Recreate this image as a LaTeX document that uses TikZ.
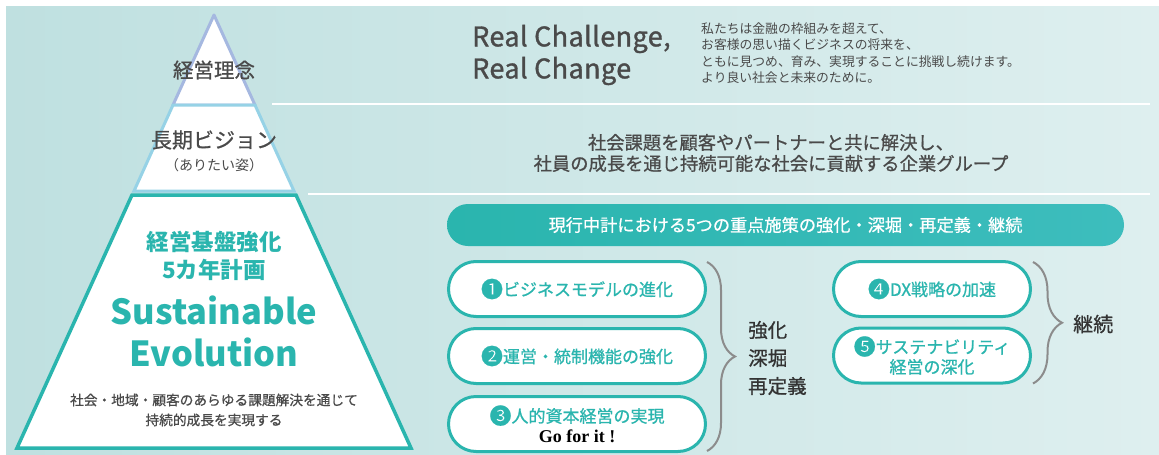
\documentclass[tikz,border=0pt]{standalone}
\usepackage{fontspec}
\setmainfont{Noto Sans CJK JP}
\newfontfamily\realfont[LetterSpace=1.5, FakeBold=1.2]{Noto Sans CJK JP}
\newfontfamily\medfont[FakeBold=0.8]{Noto Sans CJK JP}
\newfontfamily\serifbf{Liberation Serif}
\usetikzlibrary{decorations.pathreplacing}

\definecolor{bgleft}{HTML}{BFE0E0}
\definecolor{bgright}{HTML}{DEEFEF}
\definecolor{tealc}{HTML}{2AB5AE}
\definecolor{tealr}{HTML}{3DBDBD}
\definecolor{lavender}{HTML}{A5B8E0}
\definecolor{skyline}{HTML}{96D2E6}
\definecolor{darktxt}{HTML}{4A4A4A}
\definecolor{blacktxt}{HTML}{333333}
\definecolor{bracegray}{HTML}{8C8C8C}

\newcommand{\fsz}[2]{\fontsize{#1}{#2}\selectfont}
\newcommand{\numc}[1]{{\fontsize{22}{20}\selectfont\raisebox{-1.5pt}{#1}}}

\tikzset{
  pill/.style={draw=tealc, line width=3pt, fill=white, rounded corners=27.5pt,
    minimum height=55pt, text=tealc, font=\medfont\fsz{17}{20}, align=center, inner sep=0pt},
  bracket/.style={draw=bracegray, line width=2pt, decorate, decoration={brace, amplitude=28pt}},
  midtext/.style={text=darktxt, align=center, inner sep=0pt},
}

\begin{document}
\begin{tikzpicture}[x=1pt, y=-1pt]
\fill[white] (0,0) rectangle (1159,455);
\fill[left color=bgleft, right color=bgright] (6,6) rectangle (1159,455);
\coordinate (sepA) at (272,104);
\coordinate (sepB) at (308,194);
\draw[white, line width=2pt] (sepA) -- (1150,104);
\draw[white, line width=2pt] (sepB) -- (1150,194);

\coordinate (apex) at (214,15);
\draw[lavender, line width=3pt, fill=white, line join=round] (apex) -- (255,105) -- (173,105) -- cycle;
\draw[skyline, line width=3pt, fill=white] (173,105) -- (255,105) -- (294,191) -- (134,191) -- cycle;
\draw[tealc, line width=3.5pt, fill=white] (132,195) -- (296,195) -- (411,448) -- (17,448) -- cycle;

\node[midtext, font=\medfont\fsz{20.5}{24}] (philo) at (214,70) {経営理念};
\node[midtext, font=\medfont\fsz{21}{24}] (vision) at (214,140) {長期ビジョン};
\node[midtext, font=\fsz{14}{16}] (visionsub) at (214,165) {（ありたい姿）};
\node[midtext, text=tealc, font=\bfseries\fsz{22.5}{28}] (plan) at (214,256) {経営基盤強化\\5カ年計画};
\node[midtext, text=tealc, font=\bfseries\fsz{34.5}{42}] (sustain) at (214,331) {Sustainable\\Evolution};
\node[midtext, font=\medfont\fsz{13.7}{20}] (mission) at (214,410) {社会・地域・顧客のあらゆる課題解決を通じて\\持続的成長を実現する};

\node[anchor=west, text=darktxt, font=\realfont\fsz{27}{32}, align=left, inner sep=0pt] (slogan) at (472,55) {Real Challenge,\\Real Change};
\node[anchor=west, text=darktxt, font=\fsz{12.8}{16.5}, align=left, inner sep=0pt] (creed) at (701,53)
  {私たちは金融の枠組みを超えて、\\お客様の思い描くビジネスの将来を、\\ともに見つめ、育み、実現することに挑戦し続けます。\\より良い社会と未来のために。};
\node[midtext, font=\medfont\fsz{18.3}{21}] (visiontxt) at (771,153)
  {社会課題を顧客やパートナーと共に解決し、\\社員の成長を通じ持続可能な社会に貢献する企業グループ};

\node[minimum width=677pt, minimum height=42pt, rounded corners=21pt, left color=tealc, right color=tealr,
  text=white, font=\medfont\fsz{17.2}{18}, inner sep=0pt] (focus) at (785.5,225)
  {現行中計における5つの重点施策の強化・深堀・再定義・継続};

\node[pill, minimum width=257pt] (p1) at (577,289) {\numc{❶}ビジネスモデルの進化};
\node[pill, minimum width=257pt] (p2) at (577,356) {\numc{❷}運営・統制機能の強化};
\node[pill, minimum width=257pt] (p3) at (577,424) {\numc{❸}人的資本経営の実現\\{\serifbf\bfseries\color{black}\fsz{18}{20}Go for it !}};
\node[pill, minimum width=197pt] (p4) at (932,289) {\numc{❹}DX戦略の加速};
\node[pill, minimum width=197pt] (p5) at (932,355.5) {\numc{❺}サステナビリティ\\経営の深化};

\draw[bracket] ([yshift=-2pt]p1.north east) -- ([yshift=2pt]p3.south east);
\draw[bracket, decoration={brace, amplitude=29pt}] ([xshift=1pt, yshift=-2pt]p4.north east) -- ([xshift=1pt, yshift=1pt]p5.south east);

\node[anchor=west, text=blacktxt, font=\medfont\fsz{19.5}{28}, align=left, inner sep=0pt] (deepen) at (748,358) {強化\\深堀\\再定義};
\node[anchor=west, text=blacktxt, font=\medfont\fsz{20}{24}, inner sep=0pt] (keep) at (1073,324) {継続};
\end{tikzpicture}
\end{document}
